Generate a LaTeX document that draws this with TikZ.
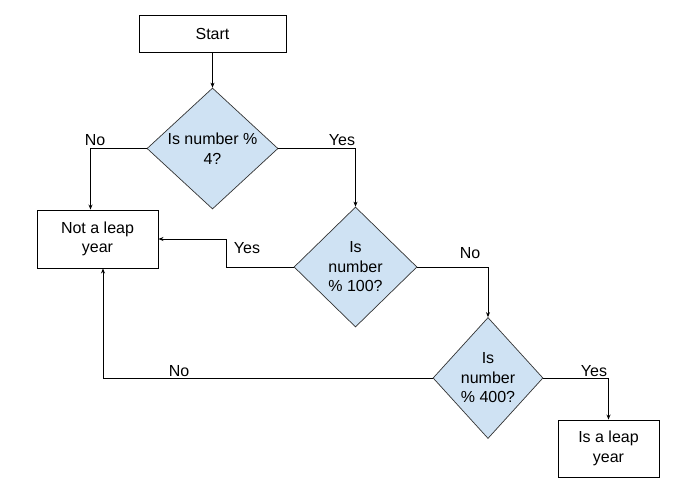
\documentclass[tikz,border=0pt]{standalone}
\usepackage{fontspec}
\setmainfont{Liberation Sans}
\usetikzlibrary{shapes.geometric,arrows.meta}
\definecolor{dfill}{HTML}{CFE2F3}
\tikzset{
  box/.style={draw=black, line width=0.9pt, fill=white, inner sep=0pt, align=center},
  dia/.style={draw=black!80, line width=0.7pt, fill=dfill, shape=diamond, inner sep=0pt},
  arr/.style={draw=black, line width=0.9pt, -{Stealth[length=5pt,width=4pt]}},
  lbl/.style={inner sep=0pt, align=center},
}
\begin{document}
\begin{tikzpicture}[x=1pt,y=-1pt, every node/.style={font=\fontsize{16}{19.5}\selectfont}]
\useasboundingbox[fill=white] (0,0) rectangle (685,498);
\node[box, minimum width=147pt, minimum height=37pt] (start) at (212.5,33.5) {Start};
\node[dia, minimum width=131pt, minimum height=121pt] (d1) at (212.5,148.5) {};
\node[lbl] (t1) at (d1.center) {Is number \%\\4?};
\node[box, minimum width=121pt, minimum height=58pt] (notleap) at (97.5,239) {Not a leap\\year};
\node[dia, minimum width=123pt, minimum height=120pt] (d2) at (355.5,267) {};
\node[lbl] (t2) at (d2.center) {Is\\number\\\% 100?};
\node[dia, minimum width=110pt, minimum height=121pt] (d3) at (488,378) {};
\node[lbl] (t3) at (d3.center) {Is\\number\\\% 400?};
\node[box, minimum width=101pt, minimum height=57pt] (leap) at (608.5,448.5) {Is a leap\\year};

\draw[arr] (start.south) -- (d1.north);
\draw[arr] (d1.west) -| ([xshift=-7pt]notleap.north);
\draw[arr] (d1.east) -| (d2.north);
\draw[arr] (d2.west) -- ++(-67,0) |- (notleap.east);
\draw[arr] (d2.east) -| (d3.north);
\draw[arr] (d3.east) -| (leap.north);
\draw[arr] (d3.west) -| ([xshift=5.5pt]notleap.south);

\node[lbl] (l1) at (95,140) {No};
\node[lbl] (l2) at (342,140) {Yes};
\node[lbl] (l3) at (247,248) {Yes};
\node[lbl] (l4) at (470,253) {No};
\node[lbl] (l5) at (594,371) {Yes};
\node[lbl] (l6) at (179,371) {No};
\end{tikzpicture}
\end{document}
